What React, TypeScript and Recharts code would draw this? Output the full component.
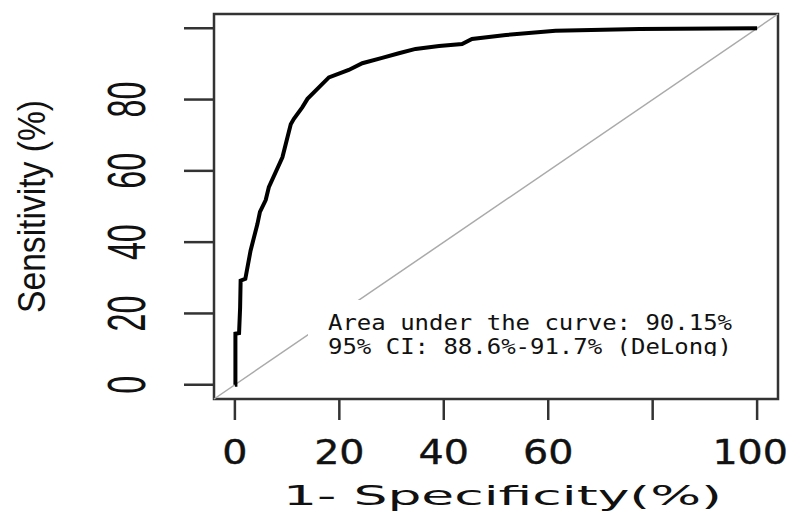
import React from 'react';
import { LineChart, Line, XAxis, YAxis, ReferenceArea, ReferenceLine } from 'recharts';

// ROC curve (1 - specificity vs sensitivity, in %)
const fpr = [0, 0.1, 0.1, 0.8, 1.0, 1.1, 2.0, 3.0, 4.3, 4.8, 5.9, 6.5, 9.1, 10.7, 11.3, 12.9, 13.9, 15.8, 18.0, 21.8, 24.4, 28.2, 31.4, 34.6, 39.1, 43.5, 45.4, 51.9, 61.4, 77.4, 100];
const tpr = [0, 0, 14.3, 14.5, 21.6, 29.2, 29.7, 37.6, 45.0, 48.5, 51.8, 55.4, 63.8, 73.1, 74.6, 77.8, 80.2, 83.0, 86.2, 88.3, 90.2, 91.7, 93.0, 94.2, 95.0, 95.6, 97.0, 98.1, 99.3, 99.8, 100];

const xTicks = [0, 20, 40, 60, 80, 100];
const yTicks = [0, 20, 40, 60, 80, 100];
// the source plot leaves some tick marks without a label
const xTickLabels: Record<number, string> = { 0: '0', 20: '20', 40: '40', 60: '60', 100: '100' };
const yTickLabels: Record<number, string> = { 0: '0', 20: '20', 40: '40', 60: '60', 80: '80' };

const xTitle = '1- Specificity(%)';
const yTitle = 'Sensitivity (%)';
const aucLines = ['Area under the curve: 90.15%', '95% CI: 88.6%-91.7% (DeLong)'];

const data = fpr.map((x, i) => ({ fpr: x, tpr: tpr[i] }));

const W = 792;
const H = 513;

const XTick = (props: any) => {
  const { x, y, payload } = props;
  const label = xTickLabels[payload.value];
  if (!label) return null;
  const sx = 1.2;
  const half = (label.length * 0.636 * 33 * sx) / 2;
  const cx = Math.min(x, 788 - half);
  return (
    <g transform={`translate(${cx},${y + 42}) scale(${sx},1)`}>
      <text textAnchor="middle" fontFamily="DejaVu Sans" fontSize={33} fill="#111" stroke="#111" strokeWidth={0.4}>
        {label}
      </text>
    </g>
  );
};

const YTick = (props: any) => {
  const { x, y, payload } = props;
  const label = yTickLabels[payload.value];
  if (!label) return null;
  return (
    <g transform={`translate(${x - 37},${y}) rotate(-90) scale(0.61,1)`}>
      <text textAnchor="middle" fontFamily="Liberation Sans" fontSize={53} fill="#111">
        {label}
      </text>
    </g>
  );
};

export default function App() {
  return (
    <div style={{ position: 'absolute', left: 0, top: 0, width: W, height: H, background: '#fff' }}>
      <LineChart width={W} height={H} data={data} margin={{ top: 14, right: 14, bottom: 0, left: 0 }}>
        <XAxis
          dataKey="fpr"
          type="number"
          domain={[-4, 104]}
          ticks={xTicks}
          interval={0}
          allowDataOverflow
          height={114}
          tickSize={21}
          axisLine={false}
          tickLine={{ stroke: '#333', strokeWidth: 2.5 }}
          tick={<XTick />}
        />
        <YAxis
          dataKey="tpr"
          type="number"
          domain={[-4, 104]}
          ticks={yTicks}
          interval={0}
          allowDataOverflow
          width={214}
          tickSize={30}
          axisLine={false}
          tickLine={{ stroke: '#333', strokeWidth: 2.5 }}
          tick={<YTick />}
        />
        <ReferenceLine
          segment={[{ x: -4, y: -4 }, { x: 104, y: 104 }]}
          stroke="#aaa"
          strokeWidth={1.5}
        />
        <Line
          dataKey="tpr"
          type="linear"
          stroke="#000"
          strokeWidth={4}
          dot={false}
          isAnimationActive={false}
        />
        <ReferenceArea x1={-4} x2={104} y1={-4} y2={104} fill="none" stroke="#333" strokeWidth={2.5} fillOpacity={0} />
      </LineChart>
      <svg width={W} height={H} style={{ position: 'absolute', left: 0, top: 0, pointerEvents: 'none' }}>
        <defs>
          <clipPath id="aucClip">
            <rect x={308} y={296} width={466} height={60} />
          </clipPath>
        </defs>
        <rect x={308} y={300} width={466} height={56} fill="#fff" />
        <g clipPath="url(#aucClip)">
          {aucLines.map((t, i) => (
            <text
              key={t}
              x={328}
              y={330 + i * 24}
              fontFamily="DejaVu Sans Mono"
              fontSize={21}
              textLength={404}
              lengthAdjust="spacingAndGlyphs"
              fill="#111"
            >
              {t}
            </text>
          ))}
        </g>
        <text
          x={283}
          y={505}
          fontFamily="DejaVu Sans"
          fontSize={27}
          textLength={439}
          lengthAdjust="spacingAndGlyphs"
          fill="#111"
        >
          {xTitle}
        </text>
        <g transform="translate(45,206.5) rotate(-90)">
          <text
            x={-106.5}
            y={0}
            fontFamily="Liberation Sans"
            fontSize={38}
            textLength={213}
            lengthAdjust="spacingAndGlyphs"
            fill="#111"
          >
            {yTitle}
          </text>
        </g>
      </svg>
    </div>
  );
}
